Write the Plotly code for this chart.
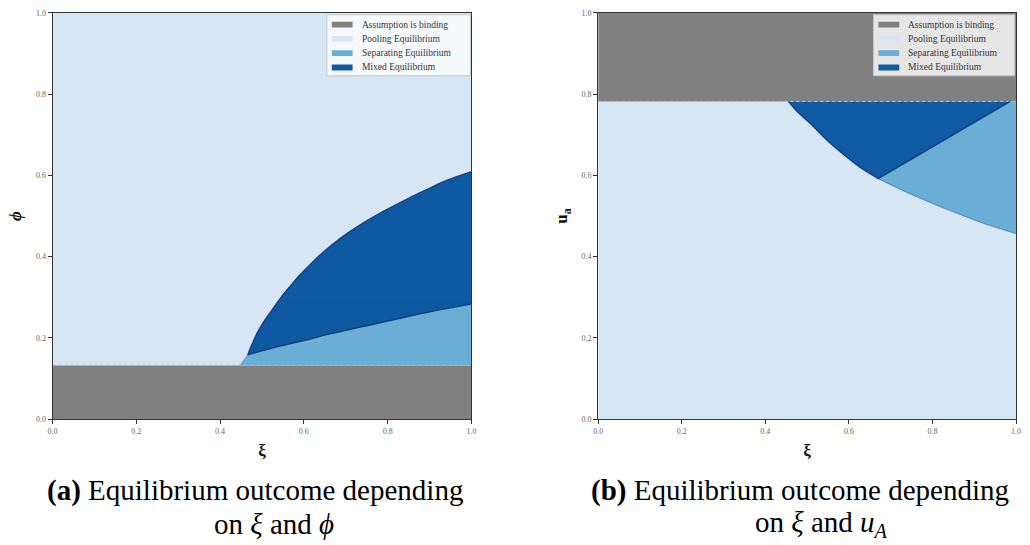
import plotly.graph_objects as go

# ---------------- data ----------------
categories = ["Assumption is binding", "Pooling Equilibrium",
              "Separating Equilibrium", "Mixed Equilibrium"]
cat_colors = ["#808080", "#d6e6f4", "#6aaed6", "#1059a3"]

tick_vals = [0.0, 0.2, 0.4, 0.6, 0.8, 1.0]
tick_text = ["0.0", "0.2", "0.4", "0.6", "0.8", "1.0"]

# panel (a): xi vs phi
a_phi_binding = 0.132
a_mixed_upper_xi = [0.466, 0.471, 0.477, 0.488, 0.509, 0.529, 0.548, 0.568, 0.588,
                    0.627, 0.667, 0.706, 0.745, 0.785, 0.824, 0.864, 0.903, 0.942, 1.0]
a_mixed_upper_phi = [0.158, 0.172, 0.186, 0.211, 0.247, 0.276, 0.303, 0.328, 0.352,
                     0.393, 0.429, 0.459, 0.485, 0.509, 0.530, 0.551, 0.570, 0.588, 0.609]
a_mixed_lower_xi = [0.466, 0.530, 0.600, 0.665, 0.730, 0.800, 0.860, 0.930, 1.0]
a_mixed_lower_phi = [0.158, 0.176, 0.193, 0.210, 0.225, 0.241, 0.255, 0.270, 0.283]
a_sep_corner_xi = 0.448

# panel (b): xi vs u_a
b_ua_binding = 0.782
b_curve_xi = [0.455, 0.476, 0.508, 0.547, 0.587, 0.626, 0.670, 0.745, 0.824, 0.903, 1.0]
b_curve_ua = [0.782, 0.757, 0.727, 0.687, 0.651, 0.620, 0.592, 0.555, 0.521, 0.489, 0.457]
b_mixed_edge_xi = [0.670, 0.986]
b_mixed_edge_ua = [0.592, 0.782]

FONT = "Liberation Serif, Times New Roman, serif"
W, H = 1030, 545
# plot boxes in pixels
LX0, LX1 = 48, 471
RX0, RX1 = 599, 1021
PY0, PY1 = 9, 422

fig = go.Figure()


def poly(xs, ys, color, xa, ya, name):
    fig.add_trace(go.Scatter(x=list(xs) + [xs[0]], y=list(ys) + [ys[0]], mode="lines",
                             fill="toself", fillcolor=color, line=dict(width=0),
                             hoverinfo="skip", showlegend=False, name=name,
                             xaxis=xa, yaxis=ya))


def line(xs, ys, color, width, xa, ya, dash="solid", opacity=1.0, shape="linear"):
    fig.add_trace(go.Scatter(x=xs, y=ys, mode="lines",
                             line=dict(color=color, width=width, dash=dash, shape=shape),
                             opacity=opacity, hoverinfo="skip", showlegend=False,
                             xaxis=xa, yaxis=ya))


# ---- panel (a) ----
b = a_phi_binding
poly([0, 1, 1, 0], [b, b, 1, 1], cat_colors[1], "x", "y", categories[1])
poly([0, 1, 1, 0], [0, 0, b, b], cat_colors[0], "x", "y", categories[0])
sep_x = [a_sep_corner_xi] + a_mixed_lower_xi + [1.0]
sep_y = [b] + a_mixed_lower_phi + [b]
poly(sep_x, sep_y, cat_colors[2], "x", "y", categories[2])
mix_x = a_mixed_upper_xi + a_mixed_lower_xi[::-1]
mix_y = a_mixed_upper_phi + a_mixed_lower_phi[::-1]
poly(mix_x, mix_y, cat_colors[3], "x", "y", categories[3])
line([0, 1], [b, b], "#aab6c2", 1.3, "x", "y", dash="dot")
line([a_sep_corner_xi, a_mixed_lower_xi[0]], [b, a_mixed_lower_phi[0]], "#5a97c6", 1.0, "x", "y")
line(a_mixed_upper_xi, a_mixed_upper_phi, "#08306b", 1.3, "x", "y", opacity=0.85, shape="spline")
line(a_mixed_lower_xi, a_mixed_lower_phi, "#08306b", 1.3, "x", "y", opacity=0.85, shape="spline")

# ---- panel (b) ----
u = b_ua_binding
vi = b_curve_xi.index(b_mixed_edge_xi[0])
poly([0, 1, 1, 0], [0, 0, u, u], cat_colors[1], "x2", "y2", categories[1])
poly([0, 1, 1, 0], [u, u, 1, 1], cat_colors[0], "x2", "y2", categories[0])
sep_x = b_curve_xi[vi:] + [1.0, b_mixed_edge_xi[1]]
sep_y = b_curve_ua[vi:] + [u, u]
poly(sep_x, sep_y, cat_colors[2], "x2", "y2", categories[2])
mix_x = b_curve_xi[:vi + 1] + [b_mixed_edge_xi[1]]
mix_y = b_curve_ua[:vi + 1] + [b_mixed_edge_ua[1]]
poly(mix_x, mix_y, cat_colors[3], "x2", "y2", categories[3])
line([0, 1], [u, u], "#aab6c2", 1.3, "x2", "y2", dash="dot")
line(b_curve_xi[vi:], b_curve_ua[vi:], "#4f8cbf", 1.1, "x2", "y2", shape="spline")
line(b_curve_xi[:vi + 1], b_curve_ua[:vi + 1], "#08306b", 1.3, "x2", "y2", opacity=0.85, shape="spline")
line(b_mixed_edge_xi, b_mixed_edge_ua, "#08306b", 1.3, "x2", "y2", opacity=0.85)

# ---- axes ----
common = dict(range=[0, 1], tickvals=tick_vals, ticktext=tick_text, ticks="outside",
              ticklen=4, tickwidth=1, tickcolor="#333", showline=True, linecolor="#333",
              linewidth=1, mirror=True, showgrid=False, zeroline=False,
              tickfont=dict(family=FONT, size=8, color="#666"), fixedrange=True)
ydom = [1 - PY1 / H, 1 - PY0 / H]
title_font = dict(family=FONT, size=17, color="#111")
fig.update_layout(
    xaxis=dict(domain=[LX0 / W, LX1 / W], anchor="y",
               title=dict(text="<b>ξ</b>", font=title_font, standoff=9), **common),
    yaxis=dict(domain=ydom, anchor="x",
               title=dict(text="<b><i>ϕ</i></b>", font=title_font, standoff=9), **common),
    xaxis2=dict(domain=[RX0 / W, RX1 / W], anchor="y2",
                title=dict(text="<b>ξ</b>", font=title_font, standoff=9), **common),
    yaxis2=dict(domain=ydom, anchor="x2",
                title=dict(text="<b>u<sub>a</sub></b>", font=title_font, standoff=9), **common),
)

# ---- manual legends ----
shapes = []
annotations = []


def add_legend(xref, yref, px0, px1, box_x0, box_x1, patch_x0, patch_x1, text_x):
    fx = lambda p: (p - px0) / (px1 - px0)
    fy = lambda p: (PY1 - p) / (PY1 - PY0)
    shapes.append(dict(type="rect", xref=xref, yref=yref, x0=fx(box_x0), x1=fx(box_x1),
                       y0=fy(73), y1=fy(11), fillcolor="rgba(255,255,255,0.8)",
                       line=dict(color="#c8c8c8", width=1), layer="above"))
    centers = [21, 35.5, 50, 64.5]
    for lab, col, cy in zip(categories, cat_colors, centers):
        shapes.append(dict(type="rect", xref=xref, yref=yref, x0=fx(patch_x0), x1=fx(patch_x1),
                           y0=fy(cy + 3), y1=fy(cy - 3), fillcolor=col,
                           line=dict(width=0), layer="above"))
        annotations.append(dict(xref=xref, yref=yref, x=fx(text_x), y=fy(cy), text=lab,
                                showarrow=False, xanchor="left", yanchor="middle",
                                font=dict(family=FONT, size=9.5, color="#333")))


add_legend("x", "y", LX0, LX1, 325, 470, 330, 351, 358)
add_legend("x2", "y2", RX0, RX1, 877, 1019.5, 882, 903, 910)

cap_font = dict(family=FONT, size=29, color="#000")
captions = [("<b>(a)</b> Equilibrium outcome depending", 252, 495),
            ("on <i>ξ</i> and <i>ϕ</i>", 272, 529),
            ("<b>(b)</b> Equilibrium outcome depending", 803, 495),
            ("on <i>ξ</i> and <i>u<sub>A</sub></i>", 824, 529)]
for txt, cx, cy in captions:
    annotations.append(dict(xref="paper", yref="paper", x=cx / W, y=1 - cy / H, text=txt,
                            showarrow=False, xanchor="center", yanchor="middle",
                            font=cap_font))

fig.update_layout(width=W, height=H, autosize=False, margin=dict(l=0, r=0, t=0, b=0),
                  paper_bgcolor="white", plot_bgcolor="white", showlegend=False,
                  shapes=shapes, annotations=annotations)

fig.write_html("out.html")
